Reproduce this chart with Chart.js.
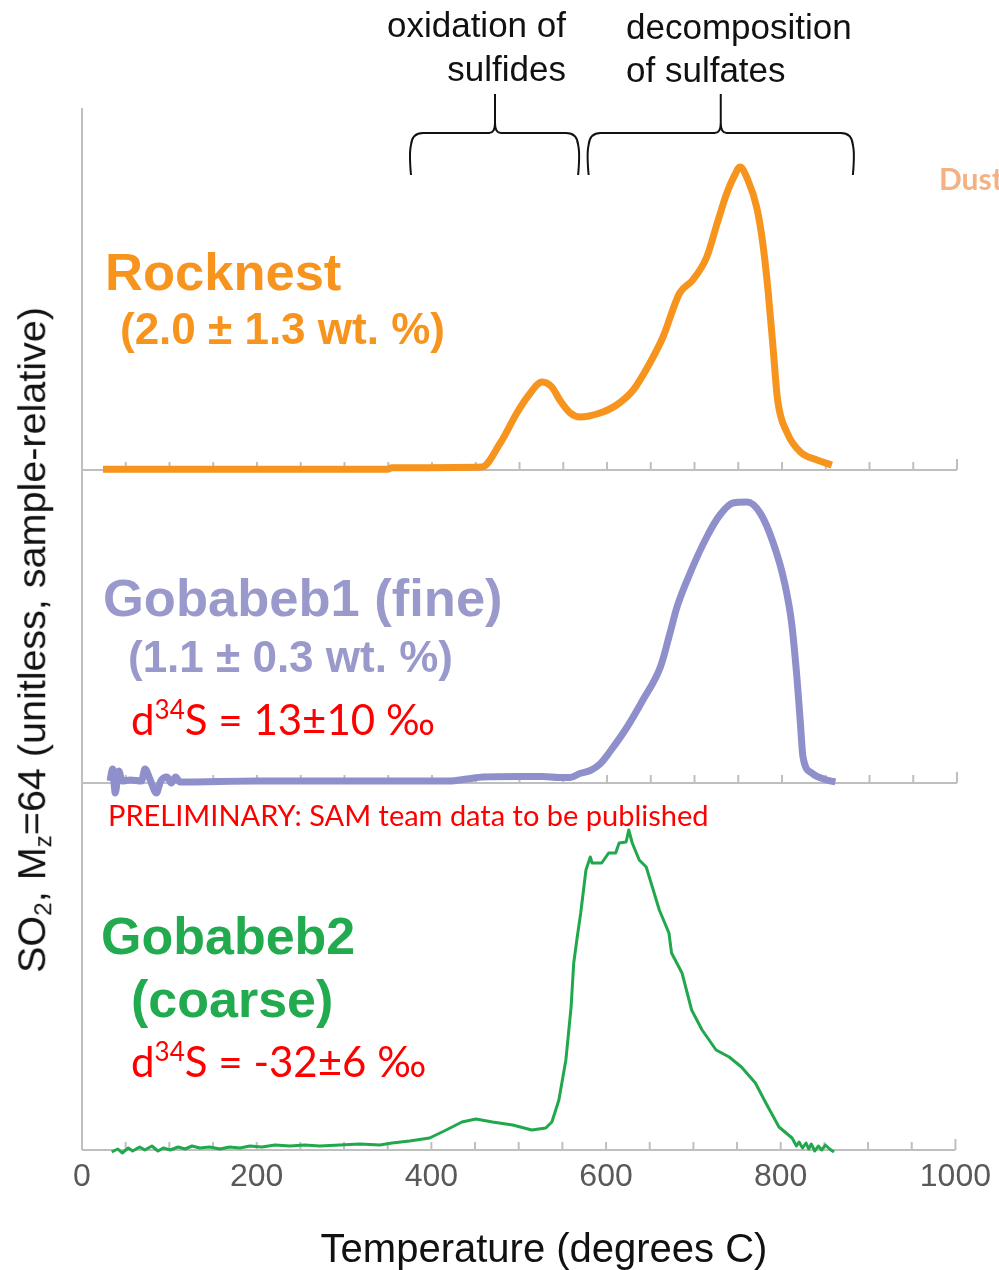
<!DOCTYPE html>
<html><head><meta charset="utf-8">
<script src="https://cdn.jsdelivr.net/npm/chart.js@4.4.1/dist/chart.umd.min.js"></script>
<style>
html,body{margin:0;padding:0;background:#fff;}
body{width:999px;height:1270px;position:relative;overflow:hidden;font-family:"Liberation Sans",Arial,sans-serif;}
canvas{position:absolute;left:0;top:0;}
.t{position:absolute;white-space:nowrap;line-height:1;}
.b{font-weight:bold;}
.red{color:#FF0000;font-family:Lato,"Open Sans",sans-serif;}
sup{font-size:62%;vertical-align:0.62em;line-height:0;}
sub{font-size:62%;vertical-align:-0.25em;line-height:0;}
</style></head><body>
<canvas id="c1" width="999" height="1270"></canvas>
<canvas id="c2" width="999" height="1270"></canvas>
<canvas id="c3" width="999" height="1270"></canvas>

<div class="t" style="right:433px;top:3px;font-size:35px;line-height:44px;text-align:right;color:#111;">oxidation of<br>sulfides</div>
<div class="t" style="left:626px;top:5px;font-size:35px;line-height:43px;color:#111;">decomposition<br>of sulfates</div>
<div class="t b" style="left:939px;top:163px;font-size:30px;color:#F4B183;font-family:Lato,sans-serif;">Dust</div>

<div class="t b" style="left:105px;top:246px;font-size:52.5px;color:#F7941D;">Rocknest</div>
<div class="t b" style="left:120px;top:307px;font-size:44px;color:#F7941D;">(2.0 ± 1.3 wt. %)</div>

<div class="t b" style="left:103px;top:572px;font-size:52.5px;color:#9999CC;">Gobabeb1 (fine)</div>
<div class="t b" style="left:128px;top:635px;font-size:44px;color:#9999CC;">(1.1 ± 0.3 wt. %)</div>
<div class="t red" style="left:131px;top:698px;font-size:42px;">d<sup>34</sup>S = 13±10 ‰</div>
<div class="t red" style="left:108px;top:800px;font-size:29px;">PRELIMINARY: SAM team data to be published</div>

<div class="t b" style="left:101px;top:910px;font-size:52px;color:#22AA4E;">Gobabeb2</div>
<div class="t b" style="left:131px;top:973px;font-size:52px;color:#22AA4E;">(coarse)</div>
<div class="t red" style="left:131px;top:1040px;font-size:42px;">d<sup>34</sup>S = -32±6 ‰</div>

<div class="t" style="left:32px;top:640px;font-size:39.5px;color:#111;transform:translate(-50%,-50%) rotate(-90deg);">SO<sub>2</sub>, M<sub>z</sub>=64 (unitless, sample-relative)</div>
<div class="t" style="left:544px;top:1248px;font-size:40px;color:#111;transform:translate(-50%,-50%);">Temperature (degrees C)</div>

<script>
// ---- data (temperature in degrees C, signal in relative units per panel) ----
const xTickLabels = ['0', '200', '400', '600', '800', '1000'];
const minorTickStep = 50;

const rocknestTemp   = [24, 349, 354, 457, 478, 497, 509, 526, 537, 546, 558, 569, 592, 611, 630, 649, 664, 683, 698, 714, 726, 737, 746, 752, 761, 771, 778, 784, 790, 795, 806, 821, 840, 857];
const rocknestSignal = [0.7, 0.7, 2.2, 3, 27, 57, 73, 88, 83, 70, 57, 53, 57, 65, 80, 107, 133, 177, 190, 213, 247, 277, 295, 303, 290, 263, 227, 180, 120, 70, 37, 18, 10, 5];

const gobabeb1Temp   = [32, 35, 38, 42, 46, 55, 68, 72, 78, 85, 90, 97, 102, 107, 112, 200, 300, 420, 440, 458, 500, 527, 545, 558, 569, 581, 592, 603, 623, 641, 661, 672, 680, 695, 714, 729, 744, 760, 775, 790, 803, 811, 817, 821, 824, 834, 851, 861];
const gobabeb1Signal = [2, 14, -10, 12, 2, 3, 2, 14, 3, -10, 2, 6, 0, 6, 1, 2, 2, 2, 4, 6, 6.5, 6.5, 5.5, 5.5, 9.5, 12.5, 19, 31, 56, 83, 116, 150, 176, 210, 246, 268, 280, 281, 270, 240, 200, 160, 106, 60, 26, 10, 3, 1];

const gobabeb2Temp   = [34, 41, 46, 53, 58, 66, 72, 80, 87, 93, 101, 110, 118, 126, 135, 146, 158, 169, 181, 192, 206, 221, 238, 255, 272, 295, 318, 341, 355, 375, 398, 417, 435, 451, 470, 493, 515, 531, 538, 546, 554, 560, 563, 567, 571, 577, 582, 584, 595, 603, 611, 615, 623, 626, 630, 638, 646, 653, 661, 672, 675, 687, 698, 710, 726, 741, 755, 771, 783, 798, 813, 818, 821, 825, 829, 832, 835, 839, 843, 847, 851, 856, 861];
const gobabeb2Signal = [-2, 1, -3, 2, -1, 3, 0, 4, -1, 2, 0, 3, 1, 4, 2, 3, 1, 3, 2, 4, 3, 5, 4, 5, 4, 5, 6, 5, 7, 9, 12, 20, 28, 31, 28, 25, 20, 22, 28, 50, 90, 143, 187, 213, 237, 280, 293, 287, 287, 297, 297, 307, 308, 320, 307, 290, 283, 263, 240, 217, 197, 177, 140, 120, 100, 93, 83, 67, 47, 23, 12, 4, 8, 2, 7, 1, 6, -1, 4, 0, 5, 1, -2];

// bracket annotations: [start temp, end temp, tip temp]
const bracketRanges = [[376, 567, 472], [579, 881, 730]];

function pts(xs, ys) { return xs.map((t, i) => ({x: t, y: ys[i]})); }

const panelAxes = {
  id: 'panelAxes',
  beforeDatasetsDraw(chart) {
    const {ctx, chartArea: a, scales: {x}} = chart;
    const x0 = x.getPixelForValue(x.min), x1 = x.getPixelForValue(x.max);
    ctx.save();
    ctx.strokeStyle = '#BFBFBF';
    ctx.lineWidth = 2;
    ctx.beginPath();
    ctx.moveTo(x0, a.top); ctx.lineTo(x0, a.bottom);
    ctx.moveTo(x0, a.bottom); ctx.lineTo(x1, a.bottom);
    for (let v = x.min; v <= x.max; v += minorTickStep) {
      const px = x.getPixelForValue(v);
      const len = (v === x.min || v === x.max) ? 11 : 8;
      ctx.moveTo(px, a.bottom); ctx.lineTo(px, a.bottom - len);
    }
    ctx.stroke();
    ctx.restore();
  }
};

const brackets = {
  id: 'brackets',
  afterDraw(chart) {
    const {ctx, scales: {x}} = chart;
    const yTip = 94, yBar = 133, yEnd = 175, r = 12;
    ctx.save();
    ctx.strokeStyle = '#111';
    ctx.lineWidth = 2;
    bracketRanges.forEach(([s, e, m]) => {
      const xl = x.getPixelForValue(s), xr = x.getPixelForValue(e), xm = x.getPixelForValue(m);
      ctx.beginPath();
      ctx.moveTo(xl, yEnd);
      ctx.quadraticCurveTo(xl - 2, yBar + 20, xl, yBar + r);
      ctx.quadraticCurveTo(xl + 1, yBar, xl + r, yBar);
      ctx.lineTo(xm - 6, yBar);
      ctx.quadraticCurveTo(xm, yBar, xm, yBar - 10);
      ctx.lineTo(xm, yTip);
      ctx.moveTo(xm, yBar - 10);
      ctx.quadraticCurveTo(xm, yBar, xm + 6, yBar);
      ctx.lineTo(xr - r, yBar);
      ctx.quadraticCurveTo(xr - 1, yBar, xr, yBar + r);
      ctx.quadraticCurveTo(xr + 2, yBar + 20, xr, yEnd);
      ctx.stroke();
    });
    ctx.restore();
  }
};

function makeChart(id, xs, ys, color, lw, yMax, padTop, padBottom, showX, smooth, extra) {
  const xScale = {
    type: 'linear', min: 0, max: 1000,
    display: showX,
    grid: { display: false, drawTicks: false },
    border: { display: false },
    ticks: {
      stepSize: 200,
      padding: 8,
      color: '#595959',
      font: { family: '"Liberation Sans", Arial, sans-serif', size: 32 },
      maxRotation: 0,
      callback: (v) => xTickLabels[Math.round(v / 200)] ?? ''
    }
  };
  if (showX) xScale.afterFit = s => { s.height = 60; };
  return new Chart(document.getElementById(id), {
    type: 'line',
    data: { datasets: [{
      data: pts(xs, ys),
      borderColor: color,
      borderWidth: lw,
      pointRadius: 0,
      fill: false,
      clip: false,
      tension: smooth ? 0.3 : 0,
      cubicInterpolationMode: smooth ? 'monotone' : 'default',
      borderJoinStyle: 'round',
      borderCapStyle: 'butt'
    }]},
    options: {
      responsive: false,
      animation: false,
      events: [],
      layout: { padding: { left: 82, right: 42, top: padTop, bottom: padBottom } },
      plugins: { legend: { display: false }, tooltip: { enabled: false }, title: { display: false } },
      scales: {
        x: xScale,
        y: { display: false, min: 0, max: yMax }
      }
    },
    plugins: extra
  });
}

makeChart('c1', rocknestTemp, rocknestSignal, '#F7941D', 7, 362, 108, 800, false, true, [panelAxes, brackets]);
makeChart('c2', gobabeb1Temp, gobabeb1Signal, '#8F8FCC', 7, 313, 470, 487, false, true, [panelAxes]);
makeChart('c3', gobabeb2Temp, gobabeb2Signal, '#22A84C', 3, 367, 783, 60, true, false, [panelAxes]);
</script>
</body></html>
